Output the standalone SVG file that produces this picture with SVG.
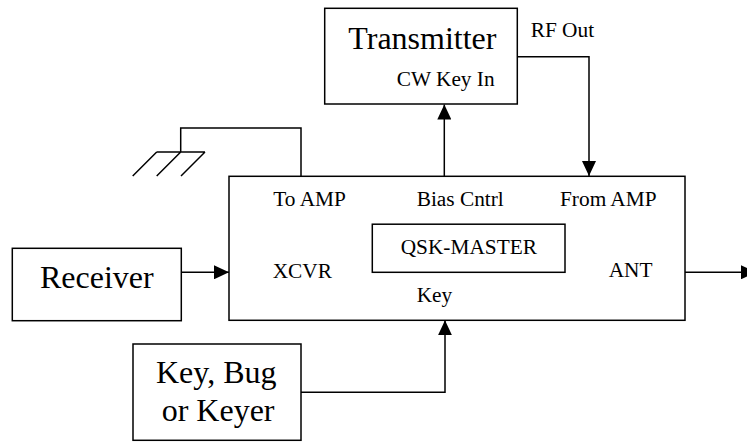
<svg xmlns="http://www.w3.org/2000/svg" width="747" height="442" viewBox="0 0 747 442">
<defs>
<style>
.box{fill:#fff;stroke:#000;stroke-width:1.5}
.ln{fill:none;stroke:#000;stroke-width:1.5}
.s{font-family:"Liberation Serif","Times New Roman",serif;font-size:21.33px;fill:#000}
.b{font-family:"Liberation Serif","Times New Roman",serif;font-size:32px;fill:#000}
</style>
<marker id="ah" markerWidth="15" markerHeight="14" refX="15" refY="7" orient="auto" markerUnits="userSpaceOnUse">
<path d="M0,0 L15,7 L0,14 Z" fill="#000"/>
</marker>
</defs>
<rect width="747" height="442" fill="#fff"/>
<g id="connectors">
<path class="ln" d="M444.3,176 V104.5" marker-end="url(#ah)"/>
<path class="ln" d="M517.3,56.7 H589 V176" marker-end="url(#ah)"/>
<path class="ln" d="M181.3,272.3 H229" marker-end="url(#ah)"/>
<path class="ln" d="M301,392.3 H445 V320.3" marker-end="url(#ah)"/>
<path class="ln" d="M685,272.3 H756" marker-end="url(#ah)"/>
<path class="ln" d="M301,176 V128 H180.7 V152"/>
</g>
<g id="ground">
<path class="ln" d="M156.7,152 H205 M156.7,152 L132.7,176 M180.7,152 L156.7,176 M205,152 L181,176"/>
</g>
<g id="transmitter">
<rect class="box" x="324.7" y="8.3" width="192.6" height="95.7"/>
<text class="b" x="348.3" y="49">Transmitter</text>
<text class="s" x="396.7" y="85.7">CW Key In</text>
</g>
<text class="s" x="530.7" y="37.3">RF Out</text>
<g id="qsk">
<rect class="box" x="229" y="176.3" width="456" height="144"/>
<text class="s" x="273.3" y="206">To AMP</text>
<text class="s" x="416.7" y="205.7">Bias Cntrl</text>
<text class="s" x="560" y="205.7">From AMP</text>
<text class="s" x="272.7" y="278.3">XCVR</text>
<text class="s" x="608.7" y="277.3">ANT</text>
<text class="s" x="416.7" y="301.7">Key</text>
<g id="qsk-master">
<rect class="box" x="372.3" y="224.2" width="192.7" height="48.1"/>
<text class="s" x="400.7" y="254.3">QSK-MASTER</text>
</g>
</g>
<g id="receiver">
<rect class="box" x="12.3" y="248.3" width="169" height="72.4"/>
<text class="b" x="40" y="288.3">Receiver</text>
</g>
<g id="key">
<rect class="box" x="133" y="344" width="168" height="96.3"/>
<text class="b" x="156" y="383.3">Key, Bug</text>
<text class="b" x="161.7" y="420.7">or Keyer</text>
</g>
</svg>
